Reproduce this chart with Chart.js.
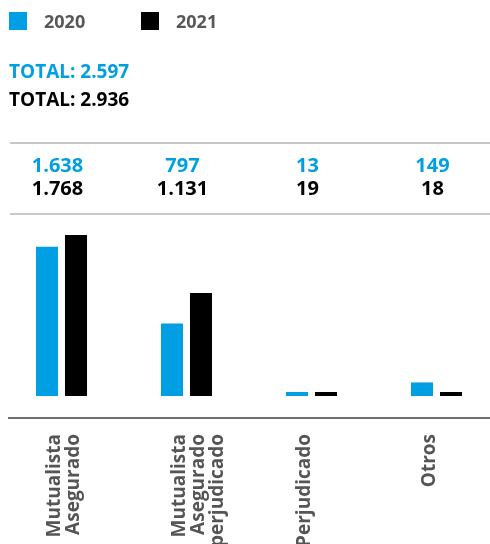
<!DOCTYPE html>
<html>
<head>
<meta charset="utf-8">
<script src="https://cdn.jsdelivr.net/npm/chart.js@4"></script>
<style>
  html, body { margin: 0; padding: 0; background: #fff; }
  body { width: 490px; height: 544px; overflow: hidden; position: relative; font-family: 'Open Sans', sans-serif; }
  .chart-box { position: absolute; left: -1px; top: 0; width: 500px; height: 544px; }
  .sq { position: absolute; width: 18px; height: 18px; }
  .txt { position: absolute; font-size: 18px; line-height: 18px; font-weight: 700; white-space: nowrap; }
  .total { font-size: 19px; line-height: 19px; }
</style>
</head>
<body>
<div class="chart-box"><canvas id="chart"></canvas></div>

<div class="sq" style="left:9px; top:12px; background:#009FE3"></div>
<div class="txt" id="lbl2020" style="left:44px; top:12px; color:#585858"></div>
<div class="sq" style="left:141px; top:12px; background:#000"></div>
<div class="txt" id="lbl2021" style="left:176px; top:12px; color:#585858"></div>

<div class="txt total" id="total2020" style="left:9px; top:62px; color:#009FE3"></div>
<div class="txt total" id="total2021" style="left:9px; top:90px; color:#000"></div>

<script>
// data
const categories = [
    ['Mutualista', 'Asegurado'],
    ['Mutualista', 'Asegurado', 'perjudicado'],
    'Perjudicado',
    'Otros'
];
const years = ['2020', '2021'];
const values2020 = [1638, 797, 13, 149];
const values2021 = [1768, 1131, 19, 18];
const totals = [2597, 2936];

const BLUE = '#009FE3';
const BLACK = '#000000';

// 1638 -> "1.638"
function fmt(n) {
    return String(n).replace(/\B(?=(\d{3})+(?!\d))/g, '.');
}

document.getElementById('lbl2020').textContent = years[0];
document.getElementById('lbl2021').textContent = years[1];
document.getElementById('total2020').textContent = 'TOTAL: ' + fmt(totals[0]);
document.getElementById('total2021').textContent = 'TOTAL: ' + fmt(totals[1]);

// value rows + separator lines above the bars
const valueRows = {
    id: 'valueRows',
    afterDraw(chart) {
        const ctx = chart.ctx;
        const x = chart.scales.x;
        ctx.save();

        ctx.strokeStyle = '#b4b4b4';
        ctx.lineWidth = 1.5;
        [143, 214].forEach(y => {
            ctx.beginPath();
            ctx.moveTo(11, y);
            ctx.lineTo(chart.width, y);
            ctx.stroke();
        });

        // baseline rule under the bars
        ctx.strokeStyle = '#707070';
        ctx.lineWidth = 2;
        ctx.beginPath();
        ctx.moveTo(9, chart.chartArea.bottom + 22);
        ctx.lineTo(chart.width, chart.chartArea.bottom + 22);
        ctx.stroke();

        ctx.textAlign = 'center';
        ctx.textBaseline = 'alphabetic';
        ctx.font = '700 20px "Open Sans"';
        categories.forEach((c, i) => {
            const px = x.getPixelForValue(i) - 4;
            ctx.fillStyle = BLUE;
            ctx.fillText(fmt(values2020[i]), px, 172);
            ctx.fillStyle = BLACK;
            ctx.fillText(fmt(values2021[i]), px, 195);
        });
        ctx.restore();
    }
};

const chart = new Chart(document.getElementById('chart'), {
    type: 'bar',
    data: {
        labels: categories,
        datasets: [
            { label: years[0], data: values2020, backgroundColor: BLUE },
            { label: years[1], data: values2021, backgroundColor: BLACK }
        ]
    },
    options: {
        responsive: true,
        maintainAspectRatio: false,
        animation: false,
        categoryPercentage: 0.464,
        barPercentage: 0.76,
        minBarLength: 4,
        layout: { padding: { top: 235, left: 0, right: 0, bottom: 0 } },
        plugins: {
            legend: { display: false },
            tooltip: { enabled: false }
        },
        scales: {
            x: {
                grid: { display: false },
                border: { display: false },
                afterFit: (scale) => { scale.height = 148; },
                ticks: {
                    minRotation: 90,
                    maxRotation: 90,
                    autoSkip: false,
                    padding: 30,
                    labelOffset: -7,
                    color: '#555555',
                    font: { family: 'Open Sans', size: 19, weight: 700, lineHeight: 1.0 }
                }
            },
            y: {
                display: false,
                min: 0,
                max: 1768
            }
        }
    },
    plugins: [valueRows]
});
</script>
</body>
</html>
